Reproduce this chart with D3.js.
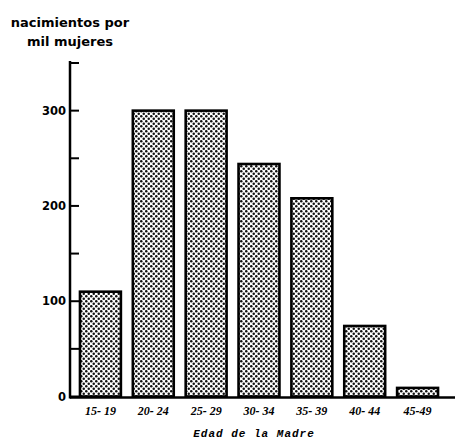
<!DOCTYPE html>
<html><head><meta charset="utf-8">
<script src="https://cdn.jsdelivr.net/npm/d3@7"></script>
<style>body{margin:0;background:#fff}</style>
</head><body>
<svg id="c" width="462" height="441"></svg>
<script>
const categories = ["15- 19","20- 24","25- 29","30- 34","35- 39","40- 44","45-49"];
const values = [110, 300, 300, 244, 208, 74, 9];
const yTicks = [0, 100, 200, 300];
const yMinorTicks = [50, 150, 250, 350];
const titleLines = ["nacimientos por", "mil mujeres"];
const xTitle = "Edad de la Madre";

const svg = d3.select("#c");
const defs = svg.append("defs");
const pat = defs.append("pattern").attr("id","dots").attr("patternUnits","userSpaceOnUse")
  .attr("width",5).attr("height",5);
pat.append("rect").attr("width",5).attr("height",5).attr("fill","#fff");
pat.append("circle").attr("cx",1.25).attr("cy",1.25).attr("r",1.25).attr("fill","#111");
pat.append("circle").attr("cx",3.75).attr("cy",3.75).attr("r",1.25).attr("fill","#111");

const x = d3.scaleBand().domain(categories).range([74, 444]).paddingInner(0.226).paddingOuter(0.113);
const y = d3.scaleLinear().domain([0, 350]).range([396.5, 63]);

// bars
svg.selectAll("rect.bar").data(values).join("rect").attr("class","bar")
  .attr("x",(d,i)=>x(categories[i]))
  .attr("y",d=>y(d))
  .attr("width",x.bandwidth())
  .attr("height",d=>y(0)-y(d))
  .attr("fill","url(#dots)").attr("stroke","#000").attr("stroke-width",2.6);

// baseline
svg.append("line").attr("x1",70).attr("x2",455).attr("y1",y(0)+1).attr("y2",y(0)+1)
  .attr("stroke","#000").attr("stroke-width",2.5);
// y axis
svg.append("line").attr("x1",70).attr("x2",70).attr("y1",y(352)).attr("y2",y(0)+2)
  .attr("stroke","#000").attr("stroke-width",2.5);
svg.selectAll("line.tk").data(yTicks.concat(yMinorTicks)).join("line").attr("class","tk")
  .attr("x1",70).attr("x2",79).attr("y1",d=>y(d)).attr("y2",d=>y(d))
  .attr("stroke","#000").attr("stroke-width",2);
svg.selectAll("text.yl").data(yTicks).join("text").attr("class","yl")
  .attr("x",66).attr("y",d=>y(d)+4).attr("text-anchor","end")
  .attr("font-family","'DejaVu Sans', sans-serif").attr("font-weight","bold").attr("font-size",11.5)
  .text(d=>d);

// x labels
svg.selectAll("text.xl").data(categories).join("text").attr("class","xl")
  .attr("x",d=>x(d)+x.bandwidth()/2).attr("y",415).attr("text-anchor","middle")
  .attr("font-family","'Liberation Serif', serif").attr("font-weight","bold").attr("font-style","italic")
  .attr("font-size",12).text(d=>d);

svg.append("text").attr("x",254).attr("y",437).attr("text-anchor","middle")
  .attr("font-family","'Liberation Mono', monospace").attr("font-weight","bold").attr("font-style","italic")
  .attr("font-size",11).attr("letter-spacing",1).text(xTitle);

svg.selectAll("text.tt").data(titleLines).join("text").attr("class","tt")
  .attr("x",70).attr("y",(d,i)=>27+i*19).attr("text-anchor","middle")
  .attr("font-family","'DejaVu Sans', sans-serif").attr("font-weight","bold").attr("font-size",13)
  .text(d=>d);
</script>
</body></html>
